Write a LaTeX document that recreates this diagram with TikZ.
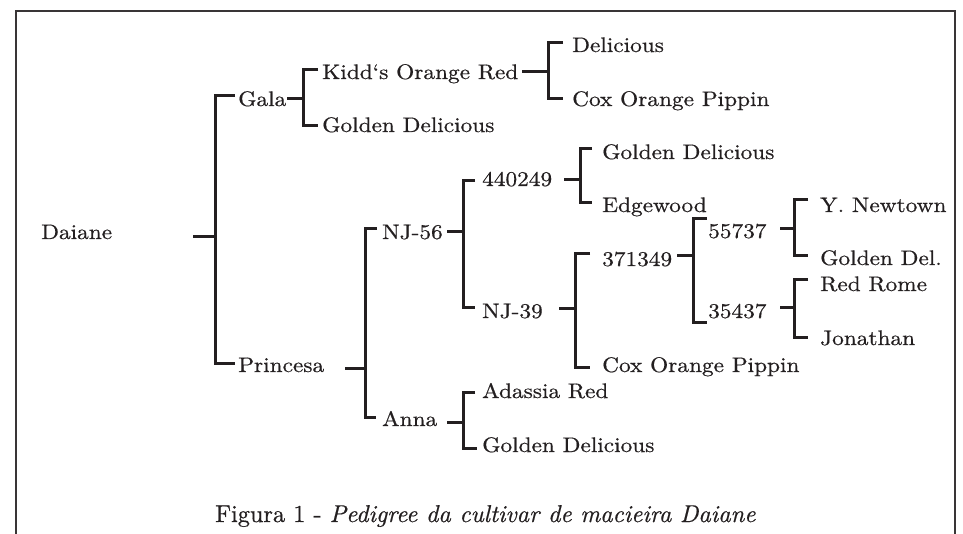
\documentclass[tikz,border=0pt]{standalone}
\usepackage{fontspec}
\setmainfont{lmroman10-regular.otf}[ItalicFont=lmroman10-italic.otf,FakeStretch=1.11,FakeBold=0.6]
\newfontfamily\capfont{lmroman10-regular.otf}[ItalicFont=lmroman10-italic.otf,FakeBold=0.6]
\definecolor{ink}{HTML}{231F20}
\begin{document}
\begin{tikzpicture}[x=1pt,y=-1pt,
  lbl/.style={anchor=base west,inner sep=0pt,text=ink,font=\fontsize{21}{25}\selectfont},
  captxt/.style={anchor=base west,inner sep=0pt,text=ink,font=\capfont\fontsize{24.3}{28}\selectfont},
  conn/.style={draw=ink,line width=3pt,line cap=butt,line join=miter},
  framebox/.style={draw=ink!90,line width=2pt}]
\useasboundingbox (0,0) rectangle (963,534);
\clip (0,0) rectangle (963,534);
\draw[framebox] (16,560) |- (955,11) -- (955,560);

% labels
\node[lbl] (daiane) at (41,239) {Daiane};
\node[lbl] (gala) at (238,106) {Gala};
\node[lbl] (princesa) at (238,372) {Princesa};
\node[lbl] (kidd) at (322,79) {Kidd‘s Orange Red};
\node[lbl] (gd1) at (322,132) {Golden Delicious};
\node[lbl] (delicious) at (572,52) {Delicious};
\node[lbl] (cox1) at (572,106) {Cox Orange Pippin};
\node[lbl] (nj56) at (382,239) {NJ-56};
\node[lbl] (anna) at (382,426) {Anna};
\node[lbl] (n440) at (482,186) {440249};
\node[lbl] (nj39) at (482,318) {NJ-39};
\node[lbl] (gd2) at (602,159) {Golden Delicious};
\node[lbl] (edge) at (602,212) {Edgewood};
\node[lbl] (n371) at (602,266) {371349};
\node[lbl] (cox2) at (602,372) {Cox Orange Pippin};
\node[lbl] (n557) at (708,238) {55737};
\node[lbl] (n354) at (708,318) {35437};
\node[lbl] (ynew) at (820,212) {Y. Newtown};
\node[lbl] (gdel) at (820,265) {Golden Del.};
\node[lbl] (redrome) at (820,291) {Red Rome};
\node[lbl] (jon) at (820,345) {Jonathan};
\node[lbl] (adassia) at (482,398) {Adassia Red};
\node[lbl] (gd3) at (482,452) {Golden Delicious};
\node[captxt] (caption) at (215,522) {Figura 1 - \textit{Pedigree da cultivar de macieira Daiane}};

% connectors: stub from parent, bracket to the two children
\draw[conn] (193,237) -- (215,237);
\draw[conn] (235,96) -- (215,96) -- (215,363) -- (235,363);

\draw[conn] (287,99) -- (303,99);
\draw[conn] (318,70) -- (303,70) -- (303,126) -- (318,126);

\draw[conn] (522,72) -- (548,72);
\draw[conn] (563,43) -- (548,43) -- (548,99) -- (563,99);

\draw[conn] (345,368) -- (365,368);
\draw[conn] (377,229) -- (365,229) -- (365,417) -- (376,417);

\draw[conn] (447,232) -- (463,232);
\draw[conn] (475,181) -- (463,181) -- (463,308) -- (475,308);

\draw[conn] (564,180) -- (580,180);
\draw[conn] (592,149) -- (580,149) -- (580,203) -- (592,203);

\draw[conn] (559,309) -- (575,309);
\draw[conn] (590,254) -- (575,254) -- (575,367) -- (590,367);

\draw[conn] (677,256) -- (693,256);
\draw[conn] (707,219) -- (693,219) -- (693,323) -- (707,323);

\draw[conn] (780,229) -- (794,229);
\draw[conn] (808,200) -- (794,200) -- (794,256) -- (808,256);

\draw[conn] (780,308) -- (794,308);
\draw[conn] (808,280) -- (794,280) -- (794,337) -- (808,337);

\draw[conn] (447,422) -- (463,422);
\draw[conn] (475,392) -- (463,392) -- (463,448) -- (477,448);
\end{tikzpicture}
\end{document}
